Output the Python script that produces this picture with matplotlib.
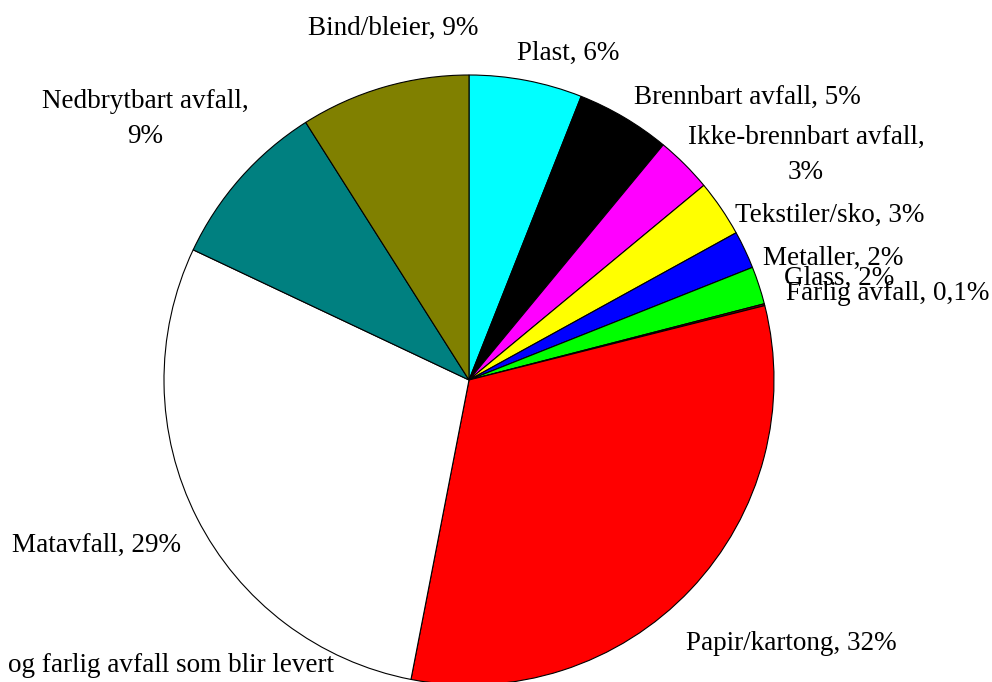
import matplotlib
matplotlib.use("Agg")
import matplotlib.pyplot as plt

categories = ["Plast", "Brennbart avfall", "Ikke-brennbart avfall", "Tekstiler/sko",
              "Metaller", "Glass", "Farlig avfall", "Papir/kartong", "Matavfall",
              "Nedbrytbart avfall", "Bind/bleier"]
values = [6, 5, 3, 3, 2, 2, 0.1, 32, 29, 9, 9]
value_labels = ["6%", "5%", "3%", "3%", "2%", "2%", "0,1%", "32%", "29%", "9%", "9%"]
colors = ["#00FFFF", "#000000", "#FF00FF", "#FFFF00", "#0000FF", "#00FF00",
          "#800000", "#FF0000", "#FFFFFF", "#008080", "#808000"]

W, H = 992, 682
fig = plt.figure(figsize=(W / 100, H / 100), dpi=100)
plt.rcParams['font.family'] = ['Liberation Serif', 'DejaVu Serif']

cx, cy, r = 469, 380, 305
ax = fig.add_axes([(cx - r) / W, (H - cy - r) / H, 2 * r / W, 2 * r / H])
ax.pie(values, colors=colors, startangle=90, counterclock=False,
       wedgeprops=dict(edgecolor="black", linewidth=0.8))
ax.set_xlim(-1, 1)
ax.set_ylim(-1, 1)
ax.set_aspect("equal")
ax.axis("off")

# label positions (pixel coords: x, y, ha)
label_pos = {
    "Plast": (517, 53, "left"),
    "Brennbart avfall": (634, 97, "left"),
    "Ikke-brennbart avfall": (806, 155, "center"),
    "Tekstiler/sko": (735, 215, "left"),
    "Metaller": (763, 258, "left"),
    "Glass": (784, 278, "left"),
    "Farlig avfall": (786, 293, "left"),
    "Papir/kartong": (686, 643, "left"),
    "Matavfall": (12, 545, "left"),
    "Nedbrytbart avfall": (145, 119, "center"),
    "Bind/bleier": (308, 28, "left"),
}
wrapped = {"Ikke-brennbart avfall", "Nedbrytbart avfall"}
fs = 19.5
for cat, v in zip(categories, value_labels):
    x, y, ha = label_pos[cat]
    sep = ",\n" if cat in wrapped else ", "
    fig.text(x / W, 1 - y / H, cat + sep + v, ha=ha, va="center",
             fontsize=fs, linespacing=1.5, multialignment="center")

fig.text(8 / W, 1 - 665 / H, "og farlig avfall som blir levert", ha="left",
         va="center", fontsize=fs)

fig.savefig("out.png", dpi=100, facecolor="white")
